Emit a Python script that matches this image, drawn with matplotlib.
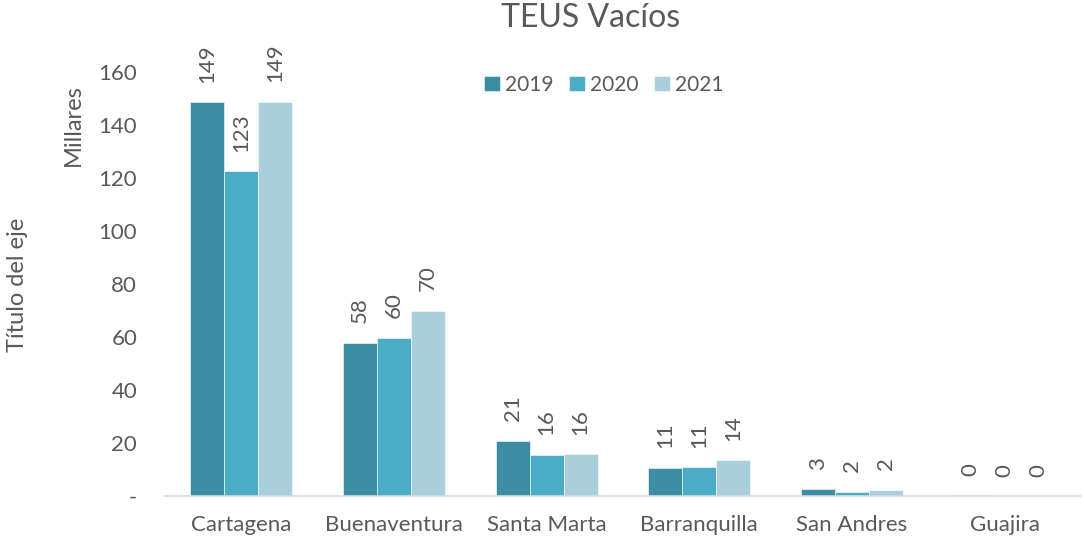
import numpy as np
import matplotlib.pyplot as plt
from matplotlib.ticker import FuncFormatter

plt.rcParams['font.family'] = ['Lato', 'DejaVu Sans']

# Data (thousands of TEUs)
ports = ['Cartagena', 'Buenaventura', 'Santa Marta', 'Barranquilla', 'San Andres', 'Guajira']
years = ['2019', '2020', '2021']
teus_2019 = [148.6, 57.8, 20.8, 10.6, 2.6, 0.3]
teus_2020 = [122.6, 59.7, 15.6, 10.9, 1.6, 0.0]
teus_2021 = [148.8, 69.9, 15.8, 13.6, 2.3, 0.0]
colors = ['#3C8CA3', '#4BACC6', '#A9CFDD']
gray = '#595959'

fig = plt.figure(figsize=(10.84, 5.44), dpi=100)
ax = fig.add_axes([165 / 1084, 1 - 496 / 544, (1081 - 165) / 1084, (496 - 72) / 544])

x = np.arange(len(ports))
w = 0.222
for i, (vals, yr) in enumerate(zip([teus_2019, teus_2020, teus_2021], years)):
    pos = x + (i - 1) * w
    ax.bar(pos, vals, w, color=colors[i], edgecolor='white', linewidth=0.4, label=yr)
    for px, v in zip(pos, vals):
        ax.annotate('%d' % int(v + 0.5), (px, v), xytext=(0, 14), textcoords='offset points',
                    rotation=90, ha='center', va='bottom', fontsize=16, color=gray,
                    annotation_clip=False)

ax.set_xlim(-0.5, len(ports) - 0.5)
ax.set_ylim(0, 160)
ax.set_yticks(range(0, 161, 20))
ax.yaxis.set_major_formatter(FuncFormatter(lambda v, p: '-' if v == 0 else '%d' % v))
ax.set_xticks(x)
ax.set_xticklabels(ports)
ax.tick_params(axis='both', length=0, colors=gray, labelsize=16)
ax.tick_params(axis='y', pad=20)
ax.tick_params(axis='x', pad=14)
for s in ['top', 'right', 'left']:
    ax.spines[s].set_visible(False)
ax.spines['bottom'].set_color('#D9D9D9')
ax.spines['bottom'].set_linewidth(1.2)

fig.text(591 / 1084, 1 - 18 / 544, 'TEUS Vacíos', ha='center', va='center', fontsize=23, color=gray)
fig.text(73 / 1084, 1 - 125 / 544, 'Millares', rotation=90, ha='center', va='center', fontsize=17, color=gray)
fig.text(18 / 1084, 1 - 285 / 544, 'Título del eje', rotation=90, ha='center', va='center', fontsize=17, color=gray)

fig.legend(loc='center', bbox_to_anchor=(604 / 1084, 1 - 85 / 544), ncol=3, frameon=False,
           fontsize=15, labelcolor=gray, handlelength=0.75, handleheight=0.75,
           handletextpad=0.25, columnspacing=0.75)

fig.savefig('out.png', dpi=100)
